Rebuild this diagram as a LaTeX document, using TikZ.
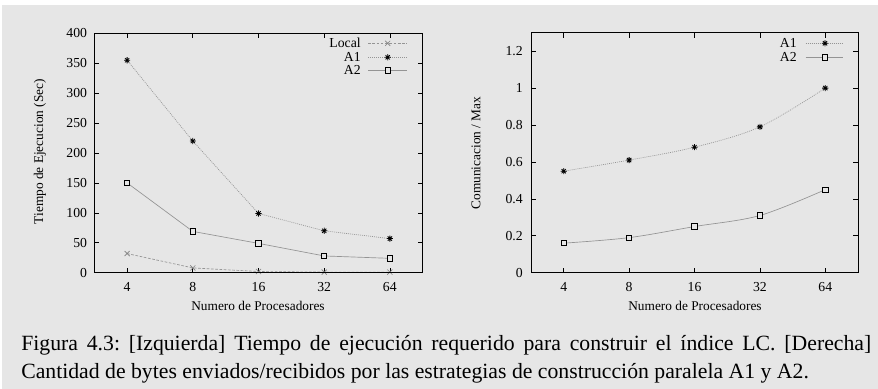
\documentclass[tikz,border=0pt]{standalone}
\usepackage{fontspec}
\setmainfont{Liberation Serif}
\definecolor{bgcol}{HTML}{E6E6E6}
\definecolor{lncol}{HTML}{949494}
\definecolor{lmkcol}{HTML}{808080}
\frenchspacing
\begin{document}
\begin{tikzpicture}[x=0.75pt,y=-0.75pt]
\tikzset{
  frame/.style={black, line width=0.6pt},
  tickmark/.style={black, line width=0.5pt},
  ticklbl/.style={font=\fontsize{10.3}{12}\selectfont, inner sep=0pt},
  axlbl/.style={font=\fontsize{10}{12}\selectfont, inner sep=0pt},
  leglbl/.style={font=\fontsize{10.3}{12}\selectfont, inner sep=0pt, anchor=east},
  capline/.style={font=\fontsize{16.3}{19}\selectfont, inner sep=0pt, anchor=base west},
  lineLocal/.style={draw=lncol, line width=0.5pt, dash pattern=on 2pt off 1.2pt},
  lineAone/.style={draw=lncol, line width=0.5pt, dash pattern=on 0.7pt off 0.8pt},
  lineAtwo/.style={draw=lncol, line width=0.5pt},
  starmk/.pic={\draw[black, line width=0.6pt] (-2.3pt,0pt)--(2.3pt,0pt) (0pt,-2.3pt)--(0pt,2.3pt) (-1.6pt,-1.6pt)--(1.6pt,1.6pt) (-1.6pt,1.6pt)--(1.6pt,-1.6pt);},
  sqmk/.pic={\draw[black, line width=0.6pt, fill=bgcol] (-2pt,-2pt) rectangle (2pt,2pt);},
  crossmk/.pic={\draw[lmkcol, line width=0.5pt] (-1.9pt,-1.9pt)--(1.9pt,1.9pt) (-1.9pt,1.9pt)--(1.9pt,-1.9pt);}
}
% background
\fill[white] (0,0) rectangle (878,389);
\fill[bgcol] (2,5) rectangle (878,389);
\useasboundingbox (0,0) rectangle (878,389);

% ===== Left plot =====
\coordinate (LO) at (94.3,272.7);
\begin{scope}[shift={(LO)}, x=49.26pt, y=0.448875pt]
  \foreach \v in {0,50,...,400} {
    \draw[tickmark] (0,\v) -- ++(3.75pt,0pt);
    \draw[tickmark] (5,\v) -- ++(-3.75pt,0pt);
    \node[ticklbl, anchor=east] (lyt\v) at ([xshift=-5.25pt]0,\v) {\v};
  }
  \foreach \i/\n in {1/4,2/8,3/16,4/32,5/64} {
    \draw[tickmark] (\i-0.5,0) -- ++(0pt,3.75pt);
    \draw[tickmark] (\i-0.5,400) -- ++(0pt,-3.75pt);
    \node[ticklbl] (lxt\n) at ([yshift=-10.5pt]\i-0.5,0) {\n};
  }
  \draw[lineLocal] plot coordinates {(0.5,32) (1.5,8) (2.5,2) (3.5,1) (4.5,1)};
  \draw[lineAone] plot coordinates {(0.5,355) (1.5,220) (2.5,99) (3.5,70) (4.5,57)};
  \draw[lineAtwo] plot coordinates {(0.5,150) (1.5,69) (2.5,49) (3.5,28) (4.5,24)};
  \foreach \x/\y in {0.5/32,1.5/8,2.5/2,3.5/1,4.5/1} \pic at (\x,\y) {crossmk};
  \foreach \x/\y in {0.5/355,1.5/220,2.5/99,3.5/70,4.5/57} \pic at (\x,\y) {starmk};
  \foreach \x/\y in {0.5/150,1.5/69,2.5/49,3.5/28,4.5/24} \pic at (\x,\y) {sqmk};
  \draw[frame] (0,0) rectangle (5,400);
\end{scope}
\node[axlbl, rotate=90] (ylL) at (40,151.7) {Tiempo de Ejecucion (Sec)};
\node[axlbl] (xlL) at (258,306) {Numero de Procesadores};
% legend left
\node[leglbl] (lgL1) at (361,43.3) {Local};
\node[leglbl] (lgL2) at (361,57.3) {A1};
\node[leglbl] (lgL3) at (361,70.3) {A2};
\coordinate (lsa1) at (368,43.3); \coordinate (lsb1) at (406.7,43.3);
\coordinate (lsa2) at (368,57.3); \coordinate (lsb2) at (406.7,57.3);
\coordinate (lsa3) at (368,70.3); \coordinate (lsb3) at (406.7,70.3);
\draw[lineLocal] (lsa1) -- (lsb1);
\draw[lineAone] (lsa2) -- (lsb2);
\draw[lineAtwo] (lsa3) -- (lsb3);
\pic at (387.7,43.3) {crossmk};
\pic at (387.7,57.3) {starmk};
\pic at (387.7,70.3) {sqmk};

% ===== Right plot =====
\coordinate (RO) at (531,272.7);
\begin{scope}[shift={(RO)}, x=49.05pt, y=138.45pt]
  \foreach \v in {0,0.2,0.4,0.6,0.8,1,1.2} {
    \draw[tickmark] (0,\v) -- ++(3.75pt,0pt);
    \draw[tickmark] (5,\v) -- ++(-3.75pt,0pt);
    \node[ticklbl, anchor=east] (ryt\v) at ([xshift=-6pt]0,\v) {\v};
  }
  \foreach \i/\n in {1/4,2/8,3/16,4/32,5/64} {
    \draw[tickmark] (\i-0.5,0) -- ++(0pt,3.75pt);
    \draw[tickmark] (\i-0.5,1.3) -- ++(0pt,-3.75pt);
    \node[ticklbl] (rxt\n) at ([yshift=-10.5pt]\i-0.5,0) {\n};
  }
  \draw[lineAone] plot[smooth, tension=0.55] coordinates {(0.5,0.55) (1.5,0.61) (2.5,0.68) (3.5,0.79) (4.5,1.0)};
  \draw[lineAtwo] plot[smooth, tension=0.55] coordinates {(0.5,0.16) (1.5,0.19) (2.5,0.25) (3.5,0.31) (4.5,0.45)};
  \foreach \x/\y in {0.5/0.55,1.5/0.61,2.5/0.68,3.5/0.79,4.5/1.0} \pic at (\x,\y) {starmk};
  \foreach \x/\y in {0.5/0.16,1.5/0.19,2.5/0.25,3.5/0.31,4.5/0.45} \pic at (\x,\y) {sqmk};
  \draw[frame] (0,0) rectangle (5,1.3);
\end{scope}
\node[axlbl, rotate=90] (ylR) at (476,153) {Comunicacion / Max};
\node[axlbl] (xlR) at (695,306) {Numero de Procesadores};
% legend right
\node[leglbl] (lgR1) at (797,43.3) {A1};
\node[leglbl] (lgR2) at (797,57.3) {A2};
\coordinate (rsa1) at (805.7,43.3); \coordinate (rsb1) at (842.7,43.3);
\coordinate (rsa2) at (805.7,57.3); \coordinate (rsb2) at (842.7,57.3);
\draw[lineAone] (rsa1) -- (rsb1);
\draw[lineAtwo] (rsa2) -- (rsb2);
\pic at (825,43.3) {starmk};
\pic at (825,57.3) {sqmk};

% ===== Caption =====
\node[capline] (cap1) at (21,350) {\makebox[637.5pt][s]{Figura 4.3: [Izquierda] Tiempo de ejecución requerido para construir el índice LC. [Derecha]}};
\node[capline] (cap2) at (21,378) {Cantidad de bytes enviados/recibidos por las estrategias de construcción paralela A1 y A2.};
\end{tikzpicture}
\end{document}
